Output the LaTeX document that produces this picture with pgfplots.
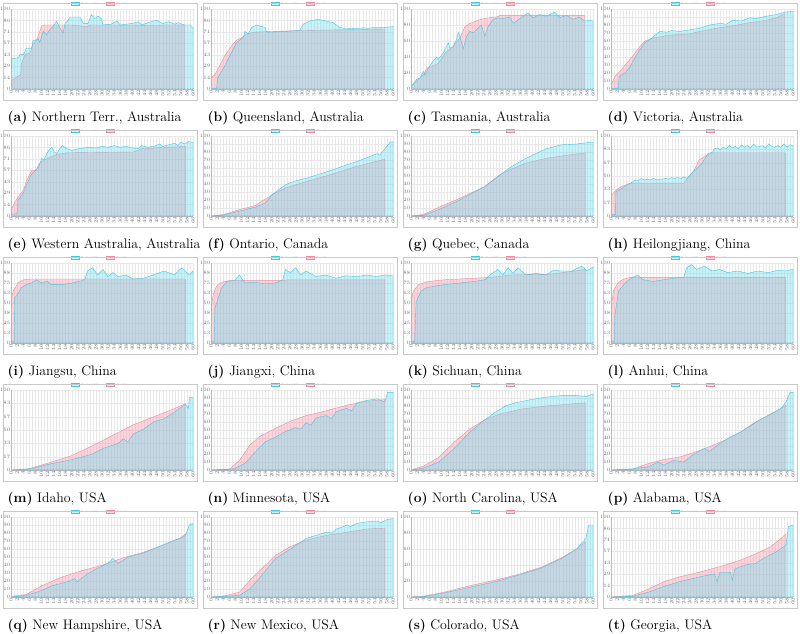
\documentclass[border=0pt]{standalone}
\usepackage{pgfplots}
\pgfplotsset{compat=1.18}
\definecolor{predC}{RGB}{97,220,240}
\definecolor{predL}{RGB}{70,198,224}
\definecolor{realC}{RGB}{246,135,158}
\definecolor{realL}{RGB}{236,140,160}
\definecolor{gridC}{RGB}{232,232,232}
\definecolor{frameC}{RGB}{200,200,200}
\definecolor{tickC}{RGB}{110,110,110}

\pgfplotsset{panel/.style={
  width=182pt, height=80pt, scale only axis, anchor=south west,
  xmin=0, xmax=60, ymin=0, ymax=100, xtick distance=2, minor x tick num=1,
  xmajorgrids, xminorgrids, ymajorgrids,
  grid style={gridC, line width=0.3pt}, minor grid style={gridC, line width=0.3pt},
  axis x line*=bottom, axis y line*=left,
  axis line style={gray!55, line width=0.3pt},
  major tick length=1pt, minor tick length=0.6pt, tick style={gray!45, line width=0.2pt},
  x tick label style={rotate=90, anchor=east, font=\fontsize{2.4}{2.6}\selectfont, text=tickC, inner sep=0.4pt},
  y tick label style={font=\fontsize{2.2}{2.4}\selectfont, text=tickC, inner sep=0.6pt},
  yticklabel={\pgfmathprintnumber[fixed,precision=0]{\tick}},
  legend style={at={(0.5,1)}, anchor=south, yshift=1.2pt, draw=none, fill=none,
    font=\fontsize{2.2}{2.4}\selectfont, text=tickC, legend columns=-1, inner sep=0pt,
    /tikz/every even column/.append style={column sep=2pt}},
  legend image code/.code={\draw[#1] (0pt,-0.9pt) rectangle (8pt,1.5pt);},
}}

% #1 frame left (px), #2 frame top (px), #3 ytick step, #4 real, #5 predicted, #6 letter, #7 caption
\newcommand{\panel}[7]{%
  \pgfmathsetmacro{\px}{#1+8}\pgfmathsetmacro{\py}{633-#2-86}%
  \pgfmathsetmacro{\fx}{#1+194}\pgfmathsetmacro{\ft}{633-#2}\pgfmathsetmacro{\fb}{633-#2-97}%
  \pgfmathsetmacro{\cx}{#1+4.5}\pgfmathsetmacro{\cy}{633-#2-118.5}%
  \begin{axis}[panel, at={(\px pt,\py pt)}, ytick distance=#3]
    \addlegendimage{draw=predL, line width=0.3pt, fill=predC, fill opacity=0.35}
    \addlegendentry{Predicted Cases}
    \addlegendimage{draw=realL, line width=0.3pt, fill=realC, fill opacity=0.35}
    \addlegendentry{Real Cases}
    \addplot[draw=realL, line width=0.4pt, fill=realC, fill opacity=0.35, forget plot] coordinates {#4} \closedcycle;
    \addplot[draw=predL, line width=0.4pt, fill=predC, fill opacity=0.35, forget plot] coordinates {#5} \closedcycle;
  \end{axis}
  \draw[frameC, line width=0.8pt] (#1pt,\ft pt) rectangle (\fx pt,\fb pt);
  \node[anchor=base west, inner sep=0pt] at (\cx pt,\cy pt) {\fontsize{13.8}{16}\selectfont\textbf{(#6)} #7};
}

\begin{document}
\begin{tikzpicture}
\useasboundingbox (0pt,0pt) rectangle (800pt,633pt);

% ---- row 1
\panel{3}{3}{14.2857}
{(0,10) (1.3,14) (2.4,16) (3.2,18) (3.5,32) (4.6,43) (6.3,45) (7.3,57) (8.4,61) (9.5,72) (10.1,79) (11.2,80) (20,80) (25,78) (26,80) (35,80) (38,79) (40,80) (48,79) (50,80) (57.2,80)}
{(0,22) (0.3,38) (2.4,39) (3,43) (4.2,43) (5,51) (6.8,51) (7.3,61) (8.4,61) (9,63) (9.5,58) (10.6,72) (11.7,68) (12.8,74) (13.9,78) (15,85) (16.1,76) (17.2,70) (17.8,82) (18.9,86) (19.4,90) (22.7,90) (23.8,82) (25.4,82) (26.5,93) (27.6,88) (28.7,91) (29.8,88) (30.3,80) (33,81) (35,85) (36,80) (40,82) (42,84) (43,80) (46,84) (48,86) (50,82) (52,84) (54,81) (55,83) (57.2,80) (59,80) (60,76)}
{a}{Northern Terr., Australia}

\panel{203}{3}{14.2857}
{(0,14) (1.3,18) (3,30) (4.6,42) (6.8,54) (8.4,61) (10.1,64) (11.7,69) (14.5,71) (16.1,71.4) (29.3,73) (57.2,75)}
{(0,1) (1.9,1) (2.1,13) (4.1,26) (6.3,42) (8.4,58) (10.6,64) (11.2,72) (12.3,69) (13.4,77) (15,80) (16.7,78) (17.8,77) (18.3,71) (24.9,72) (29.3,73.5) (30.4,81) (32.6,85) (35.3,87) (38,85) (40.2,83) (42.4,77) (44.6,75) (46,76) (48,75.5) (50,76.5) (52,76) (54,77) (55,76.5) (57.2,77) (60,78)}
{b}{Queensland, Australia}

\panel{403}{3}{20}
{(0,3) (1.9,10) (4.1,18) (5.2,26) (6.8,28) (9,32) (11.2,45) (13.9,53) (16.1,64) (17.8,78) (19.4,82) (22.1,86) (25.4,89) (28.2,90) (29.3,92) (57.2,92)}
{(0,3) (1.9,12) (3,14) (4.1,22) (4.6,17) (5.7,26) (7.3,35) (8.4,40) (9,37) (10.6,45) (12.3,58) (12.8,51) (13.9,53) (15,62) (15.6,71) (16.1,66) (17.2,50) (18.3,66) (19.4,72) (20.5,70) (22.1,76) (23.2,80) (24.3,66) (25.4,78) (27.1,87) (28.7,89) (30.4,88) (32.6,90) (33.7,82) (35.9,88) (38.6,95) (40.2,89) (42.4,93) (44.6,91) (47.4,96) (49,89) (51.2,92) (53.4,87) (55.6,90) (57.2,85) (58.9,86) (60,85)}
{c}{Tasmania, Australia}

\panel{603}{3}{10}
{(0,5) (1.3,16) (3,22) (4.6,30) (6.3,37) (7.9,45) (9.5,53) (11.2,60) (12.8,62) (13.9,64) (16.1,65) (18.3,67) (26,69) (29.3,72) (34.8,76) (40.2,79) (45.7,83) (51.2,86) (54.5,89) (57.2,94)}
{(0,1) (2.4,1) (2.7,16) (4.6,20) (6.3,28) (7.9,39) (9.5,49) (11.2,58) (12.8,62) (14.5,67) (16.1,72) (18.3,71) (20,73) (22.7,72) (26,74) (29.3,76) (32.6,80) (35.9,82) (38,81) (40.2,86) (43,85) (45.7,89) (48,88) (51.2,91) (54.5,93) (57.2,96) (60,97)}
{d}{Victoria, Australia}

% ---- row 2
\panel{3}{130}{14.2857}
{(0,4) (0.3,10) (1.7,20) (3.4,29) (4.2,33) (5,43) (6.7,56) (8.4,58) (9.2,65) (10.9,70) (12.6,73) (15.1,77) (18.5,79) (40.3,80) (42.9,84) (47,85) (57.5,87)}
{(0,2) (2,3) (2.3,20) (3.4,25) (4.2,30) (5,38) (6.7,52) (8.4,58) (9.2,62) (10.1,72) (10.9,70) (11.8,78) (12.6,83) (13.4,86) (14.3,80) (15.1,78) (16,84) (17,88) (18.5,84) (20,82) (22,84) (24,85) (26,86) (28,85) (30,87) (32,86) (34,88) (36,86) (38,87) (40,85) (42,84) (43,88) (45,86) (47,87) (49,90) (50,87) (52,89) (54,91) (55,88) (56,92) (57.5,90) (58.5,93) (60,92)}
{e}{Western Australia, Australia}

\panel{203}{130}{10}
{(0,0) (4.4,2) (9.4,8) (14.5,13) (17.8,21) (20.3,27) (24.5,35) (31.3,43) (39.7,52) (48,62) (57.3,71)}
{(0,0) (4.4,1.5) (9.4,6) (14.5,11) (17.8,16) (20.3,27) (24.5,39) (27.9,44) (31.3,47) (34.6,51) (39.7,57) (44.7,64) (48,68) (51.4,73) (54.8,78) (55.6,76) (57.3,84) (59,92) (60,93)}
{f}{Ontario, Canada}

\panel{403}{130}{10}
{(0,0) (4.2,2) (9.2,11) (16,22) (24.4,37) (29.4,52) (32.8,58) (37.8,66) (44.5,72) (49.6,75) (57.6,79)}
{(0,0) (4.2,1) (9.2,8) (16,20) (24.4,37) (30.3,54) (32.8,61) (37.8,72) (44.5,84) (49.6,89) (54.6,90) (57.6,91.5) (60,92)}
{g}{Quebec, Canada}

\panel{603}{130}{16.667}
{(0,25) (1.3,31) (3,36) (5.5,40) (7.2,41) (24,41) (27.4,57) (29,70) (31.6,76) (33.3,79) (57.5,79)}
{(0,2) (1.5,2) (1.6,30) (3,33) (5.5,39) (7.2,43) (8,45) (9,44) (10,47) (11,45) (12,46) (13,45) (14,47) (15,45) (16,46) (17,46) (18,47) (19,46) (20,48) (21,47) (22,48) (23,47) (24,49) (25,47) (26,51) (27,55) (28,58) (29,62) (30,66) (31,72) (32,78) (33.5,80) (34,84) (35,85) (36,83) (37,86) (38,84) (39,88) (40,85) (41,87) (42,84) (43,89) (44,86) (45,88) (46,85) (47,90) (48,86) (49,87) (50,88) (51,85) (52,90) (53,87) (54,86) (55,88) (56,86) (57,90) (58,86) (59,89) (60,88)}
{h}{Heilongjiang, China}

% ---- row 3
\panel{3}{257}{12.5}
{(0,52) (0.7,65) (2.5,76) (4.2,79) (6.7,80) (57.5,80)}
{(0,2) (1,2) (1.2,56) (2,60) (3.4,69) (5,73) (6.7,75) (8.4,79) (10.1,75) (11.8,77) (13.4,73) (16.8,73) (20.2,75) (23.5,78) (24.4,80) (25.2,90) (26.9,94) (28.6,85) (30.3,92) (31.9,83) (33.6,88) (35.3,83) (37.8,85) (40.3,80) (43.7,81) (47,85) (50.4,90) (53.8,85) (56.3,94) (58.8,85) (60,90)}
{i}{Jiangsu, China}

\panel{203}{257}{12.5}
{(0,44) (0.7,60) (1.8,71) (3.5,76) (6,78) (24.5,78) (25,79) (57.3,79)}
{(0,2) (1,2) (1.3,44) (2.4,56) (3.5,69) (5.2,77) (7.7,78) (9.4,85) (11.1,75) (14.5,76) (17.8,74) (21.2,75) (23.7,79) (24.5,92) (26.2,88) (27.9,94) (29.6,85) (31.3,90) (34.6,83) (37.8,85) (41.2,81) (44.5,84) (47.9,83) (51.3,85) (54.6,83) (57.3,85) (60,84)}
{j}{Jiangxi, China}

\panel{403}{257}{12.5}
{(0,52) (0.8,65) (2.5,73) (5.9,77) (10.9,79) (21,81) (26,82) (32.8,85) (46.2,86) (57.6,92)}
{(0,2) (1.2,2) (1.7,52) (3.4,65) (5,69) (7.6,71) (10.9,73) (16,75) (21,77) (24.4,79) (26,85) (28.6,92) (30.3,85) (32,94) (33.6,87) (35.3,94) (37.8,85) (41.2,87) (44.5,85) (47,91) (49.6,90) (53,90) (56.3,96) (58,90) (60,95)}
{k}{Sichuan, China}

\panel{603}{257}{12.5}
{(0,44) (0.8,65) (2.2,75) (4.2,80) (6.4,82) (57.5,82)}
{(0,2) (1,2) (1.3,35) (2.5,65) (4.2,73) (5.9,79) (7.2,82) (8.9,85) (10.6,79) (13.9,77) (17.3,79) (20.7,81) (24,82) (24.9,94) (26.6,98) (28.2,92) (30.8,96) (33.3,90) (35.8,92) (38.4,88) (41.7,90) (45.1,87) (48.4,90) (51.8,88) (55.1,91) (57.5,90) (60,92)}
{l}{Anhui, China}

% ---- row 4
\panel{3}{384}{16.667}
{(0,0) (5,0.5) (6.7,2.5) (13.4,10) (20,18) (26.7,30) (33.4,43) (40,56) (46.7,66) (53.4,76) (57.6,83)}
{(0,0) (6.7,1.7) (13.4,8) (20.2,13) (26.9,20) (30.3,27) (33.6,31) (35.3,33) (37,39) (38.6,35) (40.3,45) (43.7,51) (47,60) (50.4,64) (53.8,72) (56.3,79) (57.5,82) (58.5,77) (58.8,91) (60,91)}
{m}{Idaho, USA}

\panel{203}{384}{10}
{(0,0) (6,1) (9.4,12) (12.8,31) (16.1,42) (21.2,52) (26.2,61) (31.3,68) (38,74) (44.8,81) (51.5,86) (57.3,88)}
{(0,0) (7.7,1.5) (11.1,8) (14.5,22) (17.8,35) (21.2,41) (24.5,48) (27.9,53) (29.6,51) (31.3,59) (32.9,56) (34.6,65) (38,68) (39.7,64) (41.3,73) (44.7,77) (46.4,74) (48.1,84) (51.4,87) (54.8,89) (57.3,85) (58.2,97) (60,97)}
{n}{Minnesota, USA}

\panel{403}{384}{10}
{(0,0) (4.2,5) (9.2,16) (14.3,35) (19.3,51) (24.4,63) (29.4,70) (36.1,76) (44.5,80) (57.6,84)}
{(0,0) (4.2,2.5) (9.2,10) (14.3,27) (19.3,47) (24.4,63) (27.7,72) (31.1,80) (34.5,84) (39.5,88) (44.5,91) (49.6,93) (54.6,93) (58,92) (60,95)}
{o}{North Carolina, USA}

\panel{603}{384}{10}
{(0,0) (7.2,1) (12.3,8) (17.3,13) (22.4,16) (27.4,22) (32.4,29) (37.5,37) (42.5,47) (47.6,60) (52.6,69) (57.7,81)}
{(0,0) (7.2,1.5) (12.3,4) (15.6,10) (17.3,6) (20.7,12) (24,10) (27.4,20) (30.8,27) (32.4,23) (35.8,33) (39.2,41) (42.5,47) (45.9,55) (49.2,63) (52.6,70) (56,77) (57.7,85) (59,97) (60,97)}
{p}{Alabama, USA}

% ---- row 5
\panel{3}{511}{10}
{(0,1) (5,3) (10.1,14) (16.8,25) (23.5,33) (30.3,40) (37,49) (43.7,56) (50.4,65) (55.5,73) (57.6,79)}
{(0,0) (5,2) (10.1,8) (13.4,14) (18.5,19) (21,23) (21.8,19) (25.2,29) (28.6,36) (31.9,42) (33.6,48) (35.3,42) (38.7,50) (43.7,55) (48.7,63) (53.8,71) (56.3,74) (57.5,77) (58.8,90) (60,92)}
{q}{New Hampshire, USA}

\panel{203}{511}{10}
{(0,0) (4,1) (9.4,6) (12.8,21) (16.1,33) (21.2,52) (26.2,63) (31.3,71) (38,77) (44.8,81) (51.5,85) (57.3,86)}
{(0,0) (9.4,2) (12.8,10) (16.1,24) (21.2,48) (26.2,60) (31.3,73) (34.6,77) (38,81) (40,80) (41.3,85) (43,87) (44.7,90) (46,88) (48,92) (51.4,94) (54.8,95) (56,93) (58.2,97) (60,98)}
{r}{New Mexico, USA}

\panel{403}{511}{20}
{(0,0) (4.2,1) (10.9,6) (19.3,14) (27.7,21) (36.1,29) (42.8,37) (49.6,49) (54.6,60) (57.6,69)}
{(0,0) (4.2,0.5) (10.9,5) (19.3,12) (27.7,19) (36.1,28) (42.8,36) (49.6,48) (54.6,60) (57.6,73) (58.6,90) (60,90)}
{s}{Colorado, USA}

\panel{603}{511}{14.2857}
{(0,0) (7.2,2) (12.3,10) (17.3,19) (22.4,25) (29.1,31) (35.9,38) (42.6,46) (47.7,54) (52.7,63) (56,73) (57.7,79)}
{(0,0) (7.2,1) (12.3,6) (17.3,13) (22.4,19) (29.1,25) (34.1,29) (35,19) (35.9,31) (39.3,31) (40,21) (40.8,35) (44.2,40) (47.6,42) (51,50) (54.3,56) (57.7,65) (58.5,88) (60,90)}
{t}{Georgia, USA}

\end{tikzpicture}
\end{document}
